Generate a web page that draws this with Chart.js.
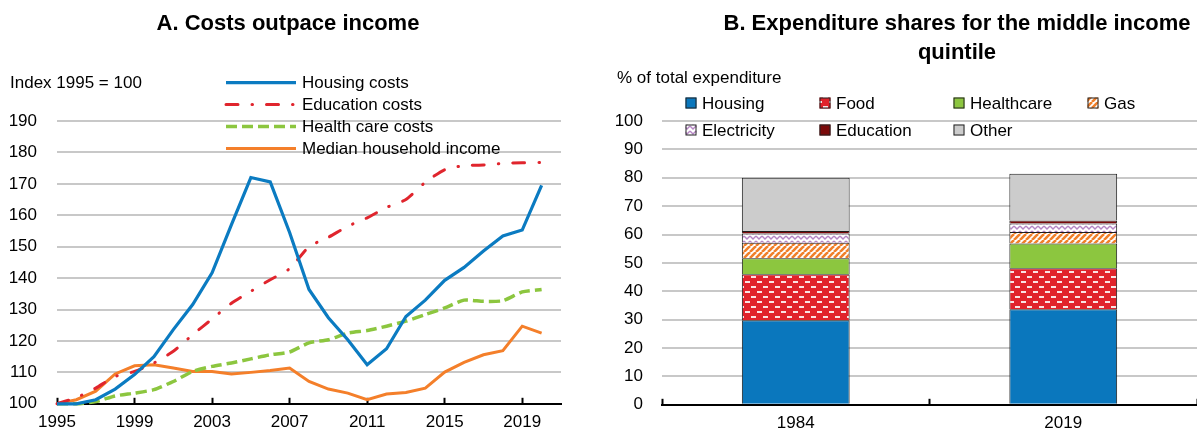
<!DOCTYPE html>
<html>
<head>
<meta charset="utf-8">
<script src="https://cdn.jsdelivr.net/npm/chart.js@4.4.1/dist/chart.umd.min.js"></script>
<style>
  html, body { margin: 0; padding: 0; background: #fff; }
  #wrap { position: relative; width: 1197px; height: 434px; overflow: hidden; }
  .panel { position: absolute; top: 0; height: 434px; }
  #boxA { left: 0; width: 580px; }
  #boxB { left: 600px; width: 597px; }
</style>
</head>
<body>
<div id="wrap">
  <div class="panel" id="boxA"><canvas id="costChart" width="580" height="434"></canvas></div>
  <div class="panel" id="boxB"><canvas id="shareChart" width="597" height="434"></canvas></div>
</div>
<script>
// Panel A: index 1995 = 100
const years = [1995, 1996, 1997, 1998, 1999, 2000, 2001, 2002, 2003, 2004, 2005, 2006, 2007,
               2008, 2009, 2010, 2011, 2012, 2013, 2014, 2015, 2016, 2017, 2018, 2019, 2020];
const housingCosts = [100, 100, 101.3, 104.7, 109.3, 115, 123.6, 131.6, 141.7, 157, 172, 170.6, 154.5,
                      136.4, 127.4, 120.4, 112.4, 117.5, 127.8, 133, 139.3, 143.4, 148.6, 153.4, 155.3, 169.5];
const educationCosts = [100, 102, 105, 108.7, 110.3, 113, 116.7, 122, 127, 132, 135.8, 139.5, 143,
                        150, 153, 156.5, 159.2, 162.5, 165, 170.5, 174.5, 175.8, 176, 176.5, 176.7, 176.8];
const healthCosts = [100, 100, 100.7, 102.5, 103.4, 104.5, 107.1, 110.3, 111.9, 113, 114.3, 115.6, 116.5,
                     119.4, 120.4, 122.5, 123.3, 124.7, 126.3, 128.4, 130.5, 133, 132.6, 132.8, 135.6, 136.4];
const medianIncome = [100, 101.3, 104, 109.5, 112.1, 112.4, 111.4, 110.3, 110.3, 109.5, 110, 110.6, 111.4,
                      107.1, 104.7, 103.4, 101.3, 103.1, 103.6, 105, 110.1, 113.2, 115.6, 116.9, 124.7, 122.5];
const yearTicks = [1995, 1999, 2003, 2007, 2011, 2015, 2019];

// Panel B: % of total expenditure
const shareYears = ['1984', '2019'];
const housingShare = [29.8, 33.7];
const foodShare = [16.2, 14.4];
const healthcareShare = [5.6, 8.7];
const gasShare = [5.5, 4.1];
const electricityShare = [3.3, 3.0];
const educationShare = [0.8, 1.0];
const otherShare = [18.8, 16.5];

const FAMILY = '"Liberation Sans", Arial, sans-serif';
const FS = 17;      // ticks, legend, notes
const TS = 22;      // panel titles
const LH = FS * 1.2;

Chart.defaults.font.family = FAMILY;
Chart.defaults.font.size = FS;
Chart.defaults.color = '#000';

const GRID = '#c8c8c8';

function makePattern(w, h, draw) {
  const cv = document.createElement('canvas');
  cv.width = w; cv.height = h;
  draw(cv.getContext('2d'), w, h);
  return document.createElement('canvas').getContext('2d').createPattern(cv, 'repeat');
}

const foodFill = makePattern(12, 10, (g, w, h) => {
  g.fillStyle = '#e1232b'; g.fillRect(0, 0, w, h);
  g.fillStyle = '#fbe3e3';
  g.fillRect(1, 1, 5, 2);
  g.fillRect(7, 6, 5, 2);
});
const gasFill = makePattern(6, 6, (g, w, h) => {
  g.fillStyle = '#ffffff'; g.fillRect(0, 0, w, h);
  g.strokeStyle = '#f07f2a'; g.lineWidth = 2.6;
  for (const k of [-6, 0, 6]) {
    g.beginPath(); g.moveTo(k, h); g.lineTo(k + w, 0); g.stroke();
  }
});
const electricityFill = makePattern(6, 5, (g, w, h) => {
  g.fillStyle = '#ffffff'; g.fillRect(0, 0, w, h);
  g.strokeStyle = '#b585c4'; g.lineWidth = 1.4;
  g.beginPath(); g.moveTo(0, 1); g.lineTo(3, 4); g.lineTo(6, 1); g.stroke();
});

// titles, notes and legends drawn at fixed spots, like the original layout
const panelText = {
  id: 'panelText',
  afterDraw(chart, args, opts) {
    const c = chart.ctx;
    c.save();
    c.fillStyle = '#000';
    c.textBaseline = 'middle';
    (opts.texts || []).forEach(t => {
      c.font = (t.bold ? 'bold ' : '') + t.size + 'px ' + FAMILY;
      c.textAlign = t.align || 'left';
      c.fillText(t.text, t.x, t.y);
    });
    const lg = opts.legend;
    if (lg) {
      c.font = FS + 'px ' + FAMILY;
      c.textAlign = 'left';
      lg.order.forEach((di, n) => {
        const ds = chart.data.datasets[di];
        const col = n % lg.cols, row = Math.floor(n / lg.cols);
        const x = lg.x + col * lg.colW, y = lg.y + row * lg.rowH;
        if (lg.kind === 'line') {
          c.save();
          c.strokeStyle = ds.borderColor;
          c.lineWidth = ds.borderWidth;
          c.lineCap = ds.borderCapStyle || 'butt';
          c.setLineDash(ds.borderDash || []);
          c.beginPath(); c.moveTo(x, y); c.lineTo(x + lg.sample, y); c.stroke();
          c.restore();
        } else {
          c.fillStyle = ds.backgroundColor;
          c.fillRect(x, y - 5.5, 11, 11);
          c.strokeStyle = '#222'; c.lineWidth = 1;
          c.strokeRect(x + 0.5, y - 5, 10, 10);
        }
        c.fillStyle = '#000';
        c.fillText(ds.label, x + lg.textGap, y + 1);
      });
    }
    c.restore();
  }
};

const toPoints = vals => years.map((yr, i) => ({ x: yr, y: vals[i] }));

new Chart(document.getElementById('costChart'), {
  type: 'line',
  data: {
    datasets: [
      { label: 'Housing costs', data: toPoints(housingCosts), borderColor: '#0b7bc1',
        borderWidth: 3.2, tension: 0 },
      { label: 'Education costs', data: toPoints(educationCosts), borderColor: '#e0252d',
        borderWidth: 3, borderDash: [12, 14, 0.5, 14], borderCapStyle: 'round', tension: 0.2 },
      { label: 'Health care costs', data: toPoints(healthCosts), borderColor: '#8cc63f',
        borderWidth: 3.5, borderDash: [11, 5], tension: 0.2 },
      { label: 'Median household income', data: toPoints(medianIncome), borderColor: '#f47f2a',
        borderWidth: 3, tension: 0 }
    ]
  },
  options: {
    responsive: false,
    animation: false,
    datasets: { line: { pointRadius: 0, clip: 5 } },
    layout: { padding: { top: 121, left: 9, right: 19, bottom: 0 } },
    plugins: {
      legend: { display: false },
      tooltip: { enabled: false },
      panelText: {
        texts: [
          { text: 'A. Costs outpace income', x: 288, y: 24, size: TS, bold: true, align: 'center' },
          { text: 'Index 1995 = 100', x: 10, y: 83, size: FS }
        ],
        legend: { kind: 'line', order: [0, 1, 2, 3], cols: 1, x: 226, y: 82.7, rowH: 21.9,
                  colW: 0, sample: 70, textGap: 76 }
      }
    },
    scales: {
      x: {
        type: 'linear', min: 1995, max: 2021,
        afterBuildTicks: s => { s.ticks = yearTicks.map(v => ({ value: v })); },
        afterFit: s => { s.height = 30; },
        ticks: { callback: v => String(v), autoSkip: false, maxRotation: 0, padding: 14 },
        grid: { drawOnChartArea: false, tickLength: -6, tickColor: '#000', tickWidth: 2 },
        border: { display: true, color: '#000', width: 2 }
      },
      y: {
        min: 100, max: 190,
        afterFit: s => { s.width = 48; },
        ticks: { stepSize: 10, padding: 20 },
        grid: { color: c => c.tick.value === 100 ? 'rgba(0,0,0,0)' : GRID, lineWidth: 2, drawTicks: false },
        border: { display: false }
      }
    }
  },
  plugins: [panelText]
});

new Chart(document.getElementById('shareChart'), {
  type: 'bar',
  data: {
    labels: shareYears,
    datasets: [
      { label: 'Housing', data: housingShare, backgroundColor: '#0a77bd' },
      { label: 'Food', data: foodShare, backgroundColor: foodFill },
      { label: 'Healthcare', data: healthcareShare, backgroundColor: '#8cc63f' },
      { label: 'Gas', data: gasShare, backgroundColor: gasFill },
      { label: 'Electricity', data: electricityShare, backgroundColor: electricityFill },
      { label: 'Education', data: educationShare, backgroundColor: '#7a0a0a' },
      { label: 'Other', data: otherShare, backgroundColor: '#cccccc' }
    ]
  },
  options: {
    responsive: false,
    animation: false,
    datasets: { bar: { borderColor: '#1e1e1e', borderWidth: 1, categoryPercentage: 1, barPercentage: 0.403 } },
    layout: { padding: { top: 121, left: 15, right: 0, bottom: 0 } },
    plugins: {
      legend: { display: false },
      tooltip: { enabled: false },
      panelText: {
        texts: [
          { text: 'B. Expenditure shares for the middle income', x: 357, y: 24, size: TS, bold: true, align: 'center' },
          { text: 'quintile', x: 357, y: 53, size: TS, bold: true, align: 'center' },
          { text: '% of total expenditure', x: 17, y: 78, size: FS }
        ],
        legend: { kind: 'box', order: [0, 1, 2, 3, 4, 5, 6], cols: 4, x: 85.5, y: 103, rowH: 27,
                  colW: 134, textGap: 16.5 }
      }
    },
    scales: {
      x: {
        stacked: true,
        afterFit: s => { s.height = 28; },
        ticks: { padding: 14 },
        grid: { offset: true, drawOnChartArea: false, tickLength: -6, tickColor: '#000', tickWidth: 2 },
        border: { display: true, color: '#000', width: 2 }
      },
      y: {
        stacked: true, min: 0, max: 100,
        afterFit: s => { s.width = 47; },
        ticks: { stepSize: 10, padding: 19 },
        grid: { color: c => c.tick.value === 0 ? 'rgba(0,0,0,0)' : GRID, lineWidth: 2, drawTicks: false },
        border: { display: false }
      }
    }
  },
  plugins: [panelText]
});
</script>
</body>
</html>
